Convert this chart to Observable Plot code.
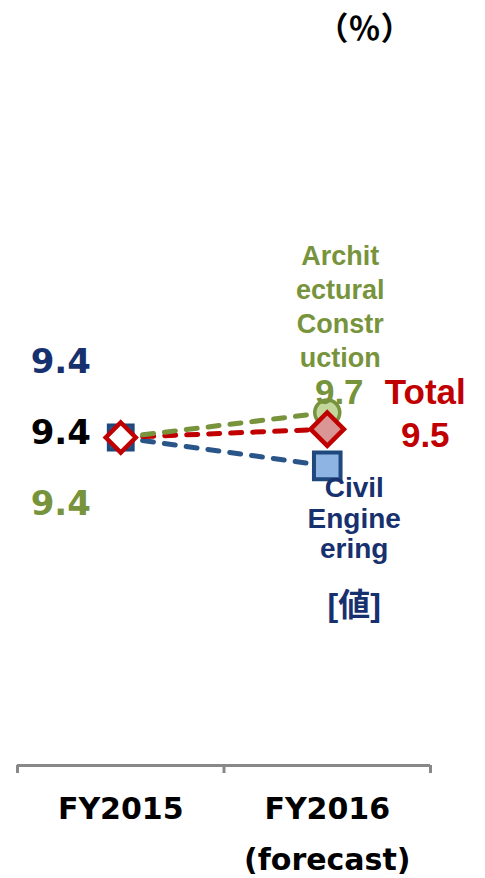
<!DOCTYPE html>
<html><head><meta charset="utf-8">
<script src="https://cdn.jsdelivr.net/npm/d3@7"></script>
<script src="https://cdn.jsdelivr.net/npm/@observablehq/plot@0.6"></script>
<style>body{margin:0;background:#fff} svg{display:block}</style>
</head><body><div id="chart"></div>
<script>
const categories = ["FY2015", "FY2016"];
const categorySub = ["", "(forecast)"];
const archValues = [9.4, 9.7];
const totalValues = [9.4, 9.5];
const civilValues = [9.4, 9.06];
const archName = ["Archit", "ectural", "Constr", "uction"];
const totalName = ["Total"];
const civilName = ["Civil", "Engine", "ering"];
const civilValueLabel = "[値]";
const unitLabel = "（％）";
const axisTicks = [0, 1, 2];

const GREEN = "#77933C", RED = "#C00000", NAVY = "#17306E", BLUE_LINE = "#2A5589", BLUE_EDGE = "#1F497D";
const LATIN = "Liberation Sans, Arial, sans-serif";
const VERD = "DejaVu Sans, Verdana, sans-serif";

const rows = (vals) => vals.map((v, i) => ({cat: categories[i], x: i + 0.5, y: v}));
const arch = rows(archValues), total = rows(totalValues), civil = rows(civilValues);
const yLo = 5.464, yHi = 13.924;

const lineOpts = {x: "x", y: "y", strokeWidth: 5, strokeDasharray: "11,11", strokeLinecap: "round"};
const txt = (o) => ({fontWeight: "bold", ...o});

const chart = Plot.plot({
  width: 485, height: 878,
  marginLeft: 17, marginRight: 55, marginTop: 60, marginBottom: 113,
  x: {domain: [0, 2]},
  y: {domain: [yLo, yHi], axis: null},
  marks: [
    Plot.ruleY([yLo], {stroke: "#888", strokeWidth: 3}),
    Plot.axisX(axisTicks, {tickSize: 8, tickFormat: () => "", stroke: "#888", strokeWidth: 3, label: null}),
    Plot.text(categories.map((c, i) => ({x: i + 0.5, t: categorySub[i] ? c + "\n" + categorySub[i] : c})),
      txt({x: "x", text: "t", frameAnchor: "bottom", lineAnchor: "top", dy: 17, lineHeight: 1.7, fontSize: 30, fontFamily: VERD, fill: "#000"})),
    Plot.text([unitLabel], txt({text: d => d, frameAnchor: "top-right", textAnchor: "middle", dx: -66, dy: -43, fontSize: 32, fontFamily: "Noto Sans CJK JP, sans-serif", fill: "#000"})),
    // lines
    Plot.line(civil, {...lineOpts, stroke: BLUE_LINE}),
    Plot.line(total, {...lineOpts, stroke: RED}),
    Plot.line(arch, {...lineOpts, stroke: GREEN}),
    // markers
    Plot.dot(arch, {x: "x", y: "y", r: 12.5, fill: "#C3D69B", stroke: GREEN, strokeWidth: 3.5}),
    Plot.dot(civil.slice(0, 1), {x: "x", y: "y", symbol: "square", r: 14, fill: "#2A5589", stroke: BLUE_EDGE, strokeWidth: 3}),
    Plot.dot(civil.slice(1), {x: "x", y: "y", symbol: "square", r: 15, fill: "#8EB4E3", stroke: BLUE_EDGE, strokeWidth: 4}),
    Plot.dot(total.slice(0, 1), {x: "x", y: "y", symbol: "diamond2", r: 13.5, fill: "#fff", stroke: RED, strokeWidth: 4.5}),
    Plot.dot(total.slice(1), {x: "x", y: "y", symbol: "diamond2", r: 15, fill: "#D99694", stroke: RED, strokeWidth: 4.5}),
    // left value labels (FY2015)
    Plot.text(civil.slice(0, 1), txt({x: "x", y: "y", text: d => d.y.toFixed(1), dx: -60, dy: -75.5, fontSize: 34, fontFamily: VERD, fill: NAVY})),
    Plot.text(total.slice(0, 1), txt({x: "x", y: "y", text: d => d.y.toFixed(1), dx: -60, dy: -4.5, fontSize: 34, fontFamily: VERD, fill: "#000"})),
    Plot.text(arch.slice(0, 1), txt({x: "x", y: "y", text: d => d.y.toFixed(1), dx: -60, dy: 66.5, fontSize: 34, fontFamily: VERD, fill: GREEN})),
    // right labels (FY2016)
    Plot.text(arch.slice(1), txt({x: "x", y: "y", text: () => archName.join("\n"), dx: 13, dy: -107.5, lineHeight: 1.27, fontSize: 27, fontFamily: LATIN, fill: GREEN})),
    Plot.text(arch.slice(1), txt({x: "x", y: "y", text: d => d.y.toFixed(1), dx: 12, dy: -19.5, fontSize: 35, fontFamily: LATIN, fill: GREEN})),
    Plot.text(total.slice(1), txt({x: "x", y: "y", text: d => totalName.join("\n") + "\n" + d.y.toFixed(1), dx: 98, dy: -17.7, lineHeight: 1.23, fontSize: 35, fontFamily: LATIN, fill: RED})),
    Plot.text(civil.slice(1), txt({x: "x", y: "y", text: () => civilName.join("\n"), dx: 27, dy: 52, lineHeight: 1.1, fontSize: 28, fontFamily: LATIN, fill: NAVY})),
    Plot.text(civil.slice(1), txt({x: "x", y: "y", text: () => civilValueLabel, dx: 27, dy: 140, fontSize: 32, fontFamily: "Liberation Sans, Noto Sans CJK JP, sans-serif", fill: NAVY}))
  ]
});
document.getElementById("chart").append(chart);
</script>
</body></html>
